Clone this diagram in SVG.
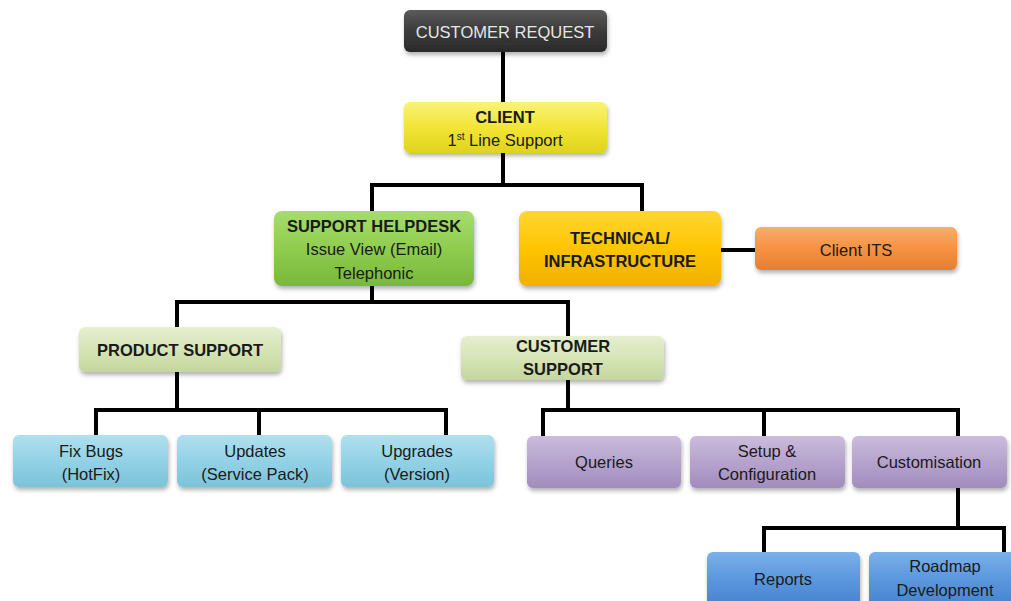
<svg xmlns="http://www.w3.org/2000/svg" width="1011" height="601" viewBox="0 0 1011 601">
<style>
.t{font-family:"Liberation Sans",Arial,sans-serif;font-size:16.5px;fill:#1a1a1a;text-anchor:middle}
.b{font-weight:bold}
.w{fill:#e6e6e6}
.c{fill:none;stroke:#000;stroke-width:4;stroke-linejoin:miter}
rect.n{stroke-width:1}
</style>
<defs>
<filter id="sh" x="-10%" y="-10%" width="120%" height="140%"><feDropShadow dx="1" dy="3" stdDeviation="2" flood-color="#000" flood-opacity="0.3"/></filter>
<linearGradient id="gDark" x1="0" y1="0" x2="0" y2="1"><stop offset="0" stop-color="#5a5a5a"/><stop offset="0.5" stop-color="#3b3b3b"/><stop offset="1" stop-color="#2a2a2a"/></linearGradient>
<linearGradient id="gYel" x1="0" y1="0" x2="0" y2="1"><stop offset="0" stop-color="#faf27a"/><stop offset="0.5" stop-color="#f2e535"/><stop offset="1" stop-color="#e0d21e"/></linearGradient>
<linearGradient id="gGrn" x1="0" y1="0" x2="0" y2="1"><stop offset="0" stop-color="#a6dc6e"/><stop offset="0.5" stop-color="#8fcd4f"/><stop offset="1" stop-color="#78b83a"/></linearGradient>
<linearGradient id="gOrY" x1="0" y1="0" x2="0" y2="1"><stop offset="0" stop-color="#ffd633"/><stop offset="0.5" stop-color="#ffc400"/><stop offset="1" stop-color="#f0b000"/></linearGradient>
<linearGradient id="gOr" x1="0" y1="0" x2="0" y2="1"><stop offset="0" stop-color="#f9ad6a"/><stop offset="0.5" stop-color="#f69244"/><stop offset="1" stop-color="#e67e30"/></linearGradient>
<linearGradient id="gLG" x1="0" y1="0" x2="0" y2="1"><stop offset="0" stop-color="#e6efcf"/><stop offset="0.5" stop-color="#d6e4b5"/><stop offset="1" stop-color="#c4d69e"/></linearGradient>
<linearGradient id="gLB" x1="0" y1="0" x2="0" y2="1"><stop offset="0" stop-color="#b0e0ee"/><stop offset="0.5" stop-color="#93d2e6"/><stop offset="1" stop-color="#7cc3da"/></linearGradient>
<linearGradient id="gPu" x1="0" y1="0" x2="0" y2="1"><stop offset="0" stop-color="#cbbcdc"/><stop offset="0.5" stop-color="#b6a3cd"/><stop offset="1" stop-color="#a18cbd"/></linearGradient>
<linearGradient id="gBl" x1="0" y1="0" x2="0" y2="1"><stop offset="0" stop-color="#7bb0ea"/><stop offset="0.5" stop-color="#5b97de"/><stop offset="1" stop-color="#4682cc"/></linearGradient>
</defs>
<rect width="1011" height="601" fill="#fff"/>
<g id="connectors">
<path class="c" d="M503 52V102"/>
<path class="c" d="M503 153V185M372 212V185H642V212"/>
<path class="c" d="M721 250H756"/>
<path class="c" d="M372 286V302M177 328V302H568V337"/>
<path class="c" d="M177 372V410M96 437V410H446V437M259 410V437"/>
<path class="c" d="M568 380V410M543 437V410H958V437M764 410V437"/>
<path class="c" d="M958 488V528M764 553V528H1004V553"/>
</g>
<g id="customer-request"><rect class="n" x="404" y="10" width="203" height="42" rx="6" fill="url(#gDark)" filter="url(#sh)"/><text class="t w" x="505" y="37.5">CUSTOMER REQUEST</text></g>
<g id="client"><rect class="n" x="404" y="102" width="203" height="51" rx="6" fill="url(#gYel)" filter="url(#sh)"/><text class="t b" x="505" y="123">CLIENT</text><text class="t" x="505" y="146">1<tspan font-size="10" dy="-6">st</tspan><tspan dy="6"> Line Support</tspan></text></g>
<g id="support-helpdesk"><rect class="n" x="274" y="211" width="200" height="75" rx="8" fill="url(#gGrn)" filter="url(#sh)"/><text class="t b" x="374" y="232">SUPPORT HELPDESK</text><text class="t" x="374" y="255">Issue View (Email)</text><text class="t" x="374" y="279">Telephonic</text></g>
<g id="technical"><rect class="n" x="519" y="211" width="202" height="75" rx="8" fill="url(#gOrY)" filter="url(#sh)"/><text class="t b" x="620" y="244">TECHNICAL/</text><text class="t b" x="620" y="267">INFRASTRUCTURE</text></g>
<g id="client-its"><rect class="n" x="755" y="227" width="202" height="43" rx="6" fill="url(#gOr)" filter="url(#sh)"/><text class="t" x="856" y="256">Client ITS</text></g>
<g id="product-support"><rect class="n" x="79" y="327" width="202" height="45" rx="6" fill="url(#gLG)" filter="url(#sh)"/><text class="t b" x="180" y="356">PRODUCT SUPPORT</text></g>
<g id="customer-support"><rect class="n" x="461" y="336" width="203" height="44" rx="6" fill="url(#gLG)" filter="url(#sh)"/><text class="t b" x="563" y="352">CUSTOMER</text><text class="t b" x="563" y="375">SUPPORT</text></g>
<g id="fix-bugs"><rect class="n" x="13" y="435" width="155" height="52" rx="6" fill="url(#gLB)" filter="url(#sh)"/><text class="t" x="91" y="457">Fix Bugs</text><text class="t" x="91" y="480">(HotFix)</text></g>
<g id="updates"><rect class="n" x="177" y="435" width="155" height="52" rx="6" fill="url(#gLB)" filter="url(#sh)"/><text class="t" x="255" y="457">Updates</text><text class="t" x="255" y="480">(Service Pack)</text></g>
<g id="upgrades"><rect class="n" x="341" y="435" width="153" height="52" rx="6" fill="url(#gLB)" filter="url(#sh)"/><text class="t" x="417" y="457">Upgrades</text><text class="t" x="417" y="480">(Version)</text></g>
<g id="queries"><rect class="n" x="527" y="436" width="154" height="52" rx="6" fill="url(#gPu)" filter="url(#sh)"/><text class="t" x="604" y="468">Queries</text></g>
<g id="setup"><rect class="n" x="690" y="436" width="155" height="52" rx="6" fill="url(#gPu)" filter="url(#sh)"/><text class="t" x="767" y="457">Setup &amp;</text><text class="t" x="767" y="480">Configuration</text></g>
<g id="customisation"><rect class="n" x="852" y="436" width="155" height="52" rx="6" fill="url(#gPu)" filter="url(#sh)"/><text class="t" x="929" y="468">Customisation</text></g>
<g id="reports"><rect class="n" x="707" y="552" width="153" height="55" rx="6" fill="url(#gBl)" filter="url(#sh)"/><text class="t" x="783" y="585">Reports</text></g>
<g id="roadmap"><rect class="n" x="869" y="552" width="150" height="55" rx="6" fill="url(#gBl)" filter="url(#sh)"/><text class="t" x="945" y="572">Roadmap</text><text class="t" x="945" y="596">Development</text></g>
</svg>
